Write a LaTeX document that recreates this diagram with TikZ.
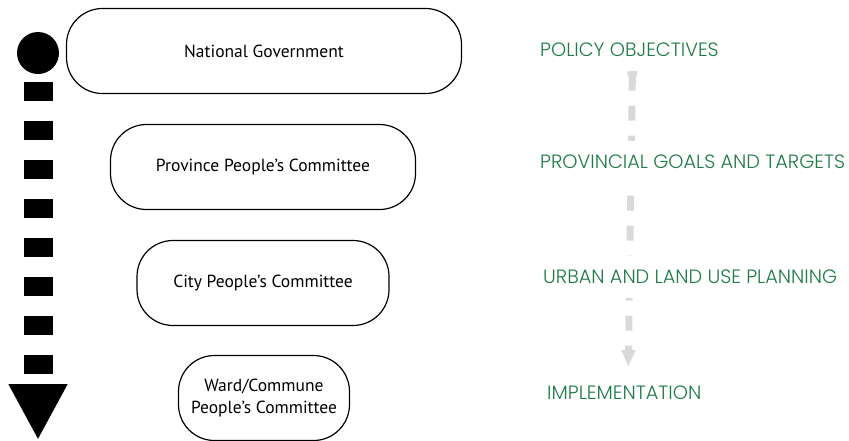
\documentclass[tikz,border=0pt]{standalone}
\usepackage{fontspec}
\setmainfont{PT Sans}
\newfontfamily\capsfont{Poppins Light}
\usepackage{xcolor}
\usetikzlibrary{arrows.meta, positioning, backgrounds}

\definecolor{stagegreen}{HTML}{1E7B47}
\definecolor{flowgray}{HTML}{D9D9D9}

\begin{document}
\begin{tikzpicture}[x=1pt, y=-1pt, font=\fontsize{17.5}{22}\selectfont]
	\tikzstyle{level} = [draw=black, line width=1.2pt, rectangle, rounded corners=36pt, align=center, minimum height=85pt]
	\tikzstyle{stage} = [text=stagegreen, anchor=west, font=\capsfont\fontsize{19.3}{21}\selectfont, fill=white, inner xsep=0pt, inner ysep=14pt]
	\useasboundingbox (0, 0) rectangle (849, 440);
	
	\node[level, minimum width=395pt]	at (264, 51)	(nat)	{National Government};
	\node[level, minimum width=305pt]	at (263, 167)	(prov)	{Province People's Committee};
	\node[level, minimum width=252pt]	at (263, 283)	(city)	{City People's Committee};
	\node[level, minimum width=171pt]	at (264, 398)	(ward)	{Ward/Commune\\People's Committee};
	
	\node[stage]	at (540, 50)	(policy)	{POLICY OBJECTIVES};
	\node[stage]	at (540, 162)	(goals)	{PROVINCIAL GOALS AND TARGETS};
	\node[stage]	at (543, 277)	(urban)	{URBAN AND LAND USE PLANNING};
	\node[stage]	at (547, 393)	(impl)	{IMPLEMENTATION};
	
	% top-down arrow
	\node[circle, fill=black, minimum size=42pt, inner sep=0pt]	at (38, 53)	(top)	{};
	\coordinate (bottom) at (38, 440);
	\path[draw][line width=29pt, dash pattern=on 19pt off 20pt, dash phase=31pt, -{Triangle[length=56pt, width=55pt]}]
	(top.south) -- (bottom);
	
	\begin{scope}[on background layer]
	\path[draw][flowgray, line width=7pt, dash pattern=on 15pt off 15pt, {Circle[length=10pt]}-{Triangle[length=17pt, width=13pt]}]
	([xshift=3pt, yshift=3pt]policy.south) -- ([xshift=4pt, yshift=5pt]impl.north);
	\end{scope}
	
\end{tikzpicture}
\end{document}
